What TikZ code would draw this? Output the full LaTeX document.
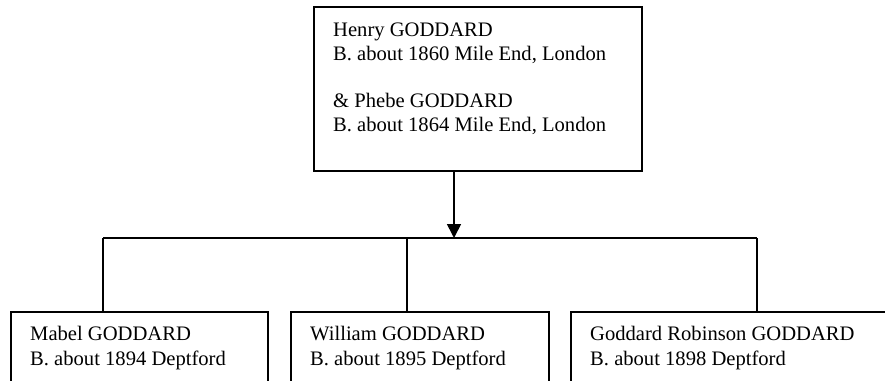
\documentclass[tikz,border=0pt]{standalone}
\usepackage{fontspec}
\setmainfont{Liberation Serif}
\usetikzlibrary{arrows.meta}
\tikzset{
  box/.style={draw, line width=1.6pt, anchor=north west, inner sep=0pt},
  txt/.style={anchor=base west, inner sep=0pt, font=\fontsize{20.6}{24.5}\selectfont},
  conn/.style={line width=1.6pt},
}
\begin{document}
\begin{tikzpicture}[x=1pt,y=-1pt]
\useasboundingbox (0,0) rectangle (885,380);
\clip (0,0) rectangle (885,380);
% parent box
\node[box, minimum width=328pt, minimum height=164pt] (top) at (313,6) {};
\node[txt] (t1) at (333,36) {Henry GODDARD};
\node[txt] (t2) at (333,60) {B. about 1860 Mile End, London};
\node[txt] (t3) at (333,107) {\& Phebe GODDARD};
\node[txt] (t4) at (333,131) {B. about 1864 Mile End, London};
% children boxes
\node[box, minimum width=257pt, minimum height=120pt] (c1) at (10,311) {};
\node[box, minimum width=258pt, minimum height=120pt] (c2) at (290,311) {};
\node[box, minimum width=340pt, minimum height=120pt] (c3) at (570,311) {};
\node[txt] (c1a) at (30,340) {Mabel GODDARD};
\node[txt] (c1b) at (30,365) {B. about 1894 Deptford};
\node[txt] (c2a) at (310,340) {William GODDARD};
\node[txt] (c2b) at (310,365) {B. about 1895 Deptford};
\node[txt] (c3a) at (590,340) {Goddard Robinson GODDARD};
\node[txt] (c3b) at (590,365) {B. about 1898 Deptford};
% connectors
\coordinate (bar) at (454,238);
\coordinate (d1) at (103,238);
\coordinate (d2) at (407,238);
\coordinate (d3) at (757,238);
\draw[conn, -{Triangle[length=14pt,width=14pt]}] (top.south -| bar) -- (bar);
\draw[conn] (d1) -- (d3);
\draw[conn] (d1) -- (d1 |- c1.north);
\draw[conn] (d2) -- (d2 |- c2.north);
\draw[conn] (d3) -- (d3 |- c3.north);
\end{tikzpicture}
\end{document}
